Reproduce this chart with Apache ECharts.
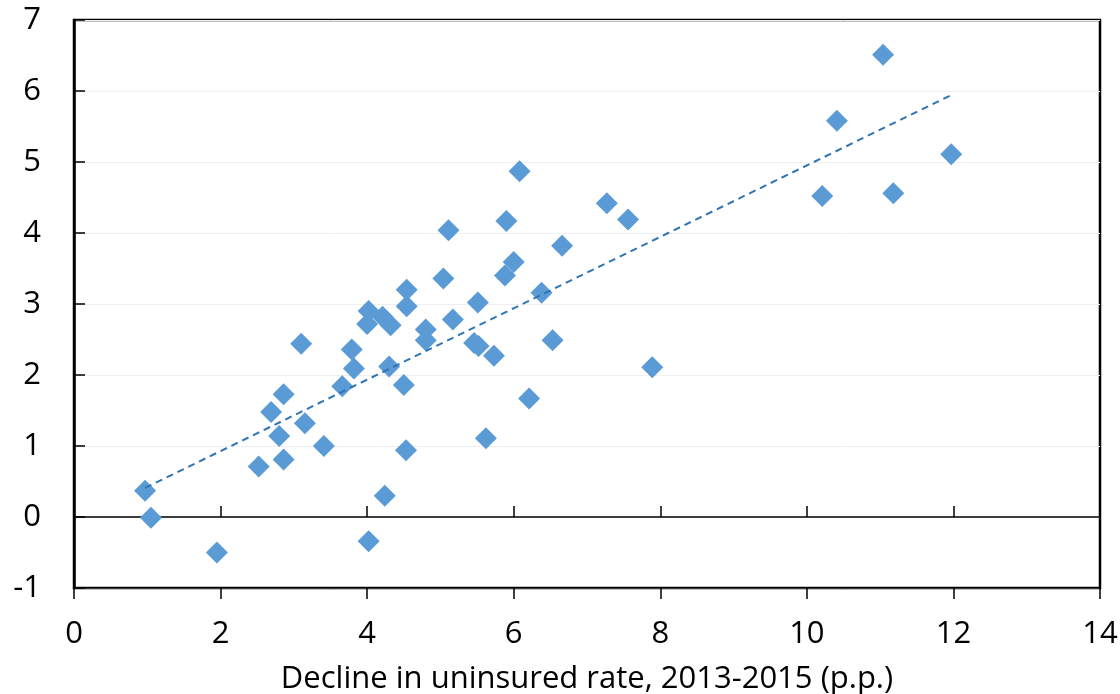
<!DOCTYPE html>
<html>
<head>
<meta charset="utf-8">
<script src="https://cdn.jsdelivr.net/npm/echarts@6/dist/echarts.min.js"></script>
<style>
  html, body { margin: 0; padding: 0; background: #fff; }
  #main { width: 1120px; height: 694px; }
</style>
</head>
<body>
<div id="main"></div>
<script>
// decline in uninsured rate (p.p.), one value per state
var declineX = [0.97, 1.05, 1.95, 2.52, 2.86, 2.80, 2.69, 2.86, 3.10, 3.15,
    3.41, 3.66, 3.82, 3.79, 4.00, 4.02, 4.02, 4.24, 4.21, 4.32,
    4.30, 4.50, 4.53, 4.54, 4.54,
    6.08, 5.11, 5.90, 7.27, 7.56, 6.66, 6.00, 5.88, 5.04, 6.38,
    5.51, 5.17, 4.80, 4.80, 5.46, 5.52, 5.73, 6.53, 7.89, 6.21,
    5.62,
    11.04, 10.41, 11.97, 10.21, 11.18];
// vertical value for the same states
var valueY = [0.37, -0.01, -0.50, 0.71, 0.81, 1.14, 1.48, 1.73, 2.44, 1.32,
    1.00, 1.84, 2.09, 2.36, 2.72, 2.90, -0.34, 0.30, 2.82, 2.70,
    2.12, 1.86, 0.94, 3.20, 2.97,
    4.87, 4.04, 4.17, 4.42, 4.19, 3.82, 3.59, 3.40, 3.36, 3.16,
    3.02, 2.78, 2.64, 2.49, 2.45, 2.41, 2.27, 2.49, 2.11, 1.67,
    1.11,
    6.51, 5.58, 5.11, 4.52, 4.56];
var xTicks = [0, 2, 4, 6, 8, 10, 12, 14];
var yTicks = [-1, 0, 1, 2, 3, 4, 5, 6, 7];
var xTitle = 'Decline in uninsured rate, 2013-2015 (p.p.)';

var points = declineX.map(function (x, i) { return [x, valueY[i]]; });

// linear trend line, least squares like the spreadsheet does
var n = points.length, sx = 0, sy = 0, sxx = 0, sxy = 0;
points.forEach(function (p) {
    sx += p[0]; sy += p[1]; sxx += p[0] * p[0]; sxy += p[0] * p[1];
});
var slope = (n * sxy - sx * sy) / (n * sxx - sx * sx);
var icpt = (sy - slope * sx) / n;
var xLo = Math.min.apply(null, declineX), xHi = Math.max.apply(null, declineX);
var trend = [[xLo, icpt + slope * xLo], [xHi, icpt + slope * xHi]];

var font = 'Open Sans';
var fs = 31;

var xBase = {
    type: 'value',
    min: xTicks[0],
    max: xTicks[xTicks.length - 1],
    interval: 2,
    splitLine: { show: false }
};

var option = {
    animation: false,
    backgroundColor: '#fff',
    grid: {
        left: 74, right: 20, top: 20, bottom: 106,
        show: true, borderColor: '#000', borderWidth: 2.5,
        containLabel: false,
        outerBoundsMode: 'none'
    },
    xAxis: [
        // zero line with ticks going up
        Object.assign({}, xBase, {
            position: 'bottom',
            axisLine: { onZero: true, lineStyle: { color: '#000', width: 1.5 } },
            axisTick: { inside: true, length: 11, lineStyle: { color: '#000', width: 1.5 } },
            axisLabel: { show: false }
        }),
        // same line, ticks going down
        Object.assign({}, xBase, {
            position: 'bottom',
            axisLine: { onZero: true, lineStyle: { color: '#000', width: 1.5 } },
            axisTick: { inside: false, length: 11, lineStyle: { color: '#000', width: 1.5 } },
            axisLabel: { show: false }
        }),
        // labels and title along the bottom of the box
        Object.assign({}, xBase, {
            position: 'bottom',
            axisLine: { show: false, onZero: false },
            axisTick: { show: false },
            axisLabel: { color: '#000', fontFamily: font, fontSize: fs, margin: 31 },
            name: xTitle,
            nameLocation: 'middle',
            nameGap: 76,
            nameTextStyle: { color: '#000', fontFamily: font, fontSize: fs }
        })
    ],
    yAxis: {
        type: 'value',
        min: yTicks[0],
        max: yTicks[yTicks.length - 1],
        interval: 1,
        axisLine: { show: true, lineStyle: { color: '#000', width: 2.5 } },
        axisTick: { inside: true, length: 11, lineStyle: { color: '#000', width: 1.5 } },
        axisLabel: { color: '#000', fontFamily: font, fontSize: fs, margin: 33 },
        splitLine: { lineStyle: { color: '#eeeeee', width: 1 } }
    },
    series: [
        {
            type: 'scatter',
            data: points,
            symbol: 'diamond',
            symbolSize: 22,
            itemStyle: { color: '#5b9bd5', opacity: 1 },
            z: 2
        },
        {
            type: 'line',
            data: trend,
            showSymbol: false,
            symbol: 'none',
            lineStyle: { color: '#2e75b6', width: 2, type: [7, 5] },
            z: 3
        }
    ]
};

var chart = echarts.init(document.getElementById('main'));
chart.setOption(option);
</script>
</body>
</html>
